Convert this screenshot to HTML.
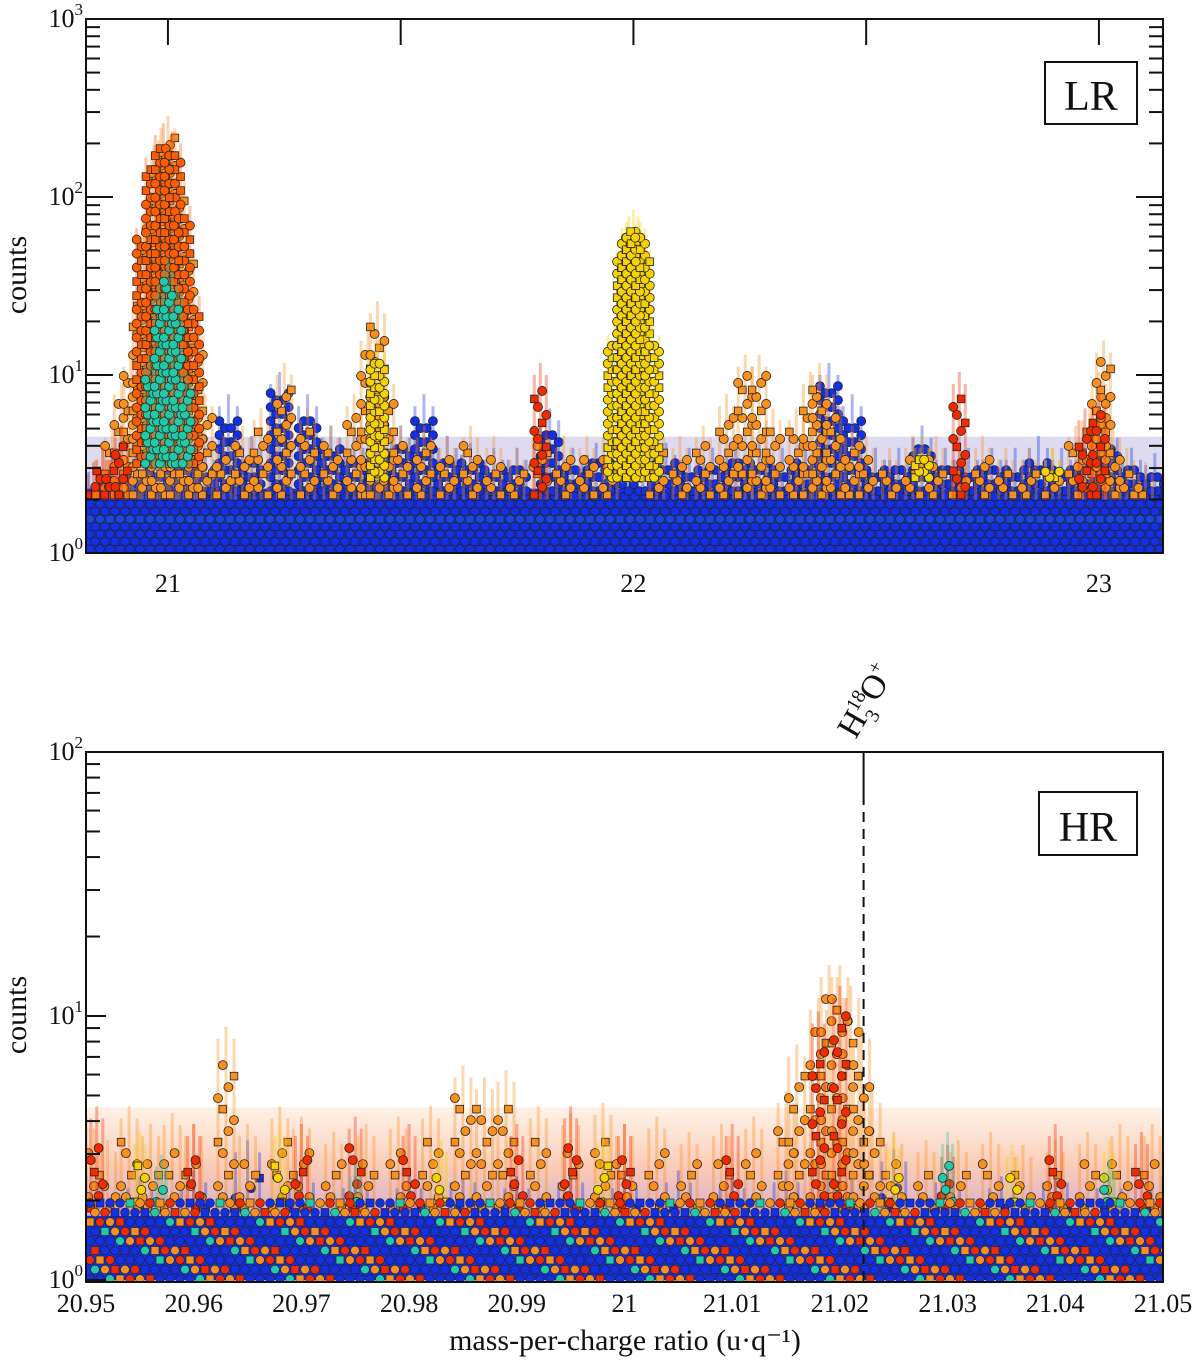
<!DOCTYPE html>
<html><head><meta charset="utf-8">
<style>
html,body{margin:0;padding:0;background:#fff;}
svg{display:block;font-family:"Liberation Serif",serif;}
</style></head>
<body>
<svg id="chart" width="1200" height="1365" viewBox="0 0 1200 1365" xmlns="http://www.w3.org/2000/svg">
<defs>
<clipPath id="clipT"><rect x="86" y="19" width="1077" height="534"/></clipPath>
<clipPath id="clipB"><rect x="86" y="752" width="1077" height="530"/></clipPath>
<linearGradient id="hazeGrad" x1="0" y1="0" x2="0" y2="1">
<stop offset="0" stop-color="#f7a060" stop-opacity="0.15"/>
<stop offset="0.5" stop-color="#f26a30" stop-opacity="0.35"/>
<stop offset="1" stop-color="#8a50c0" stop-opacity="0.5"/>
</linearGradient>
</defs>
<g id="topMarks" clip-path="url(#clipT)"></g>
<g id="botMarks" clip-path="url(#clipB)"></g>
<g id="axes"></g>
</svg>
<script>
// ---------- TOP (LR) panel data ----------
const lrOrangeX = [20.86,20.88,20.9,20.92,20.94,20.96,20.98,21.0,21.02,21.04,21.06,21.08,21.12,21.16,21.2,21.25,21.3,21.35,21.4,21.43,21.45,21.47,21.5,21.55,21.6,21.65,21.7,21.75,21.8,21.85,21.9,21.95,22.05,22.1,22.15,22.2,22.24,22.27,22.3,22.35,22.38,22.4,22.43,22.47,22.5,22.55,22.6,22.65,22.7,22.75,22.8,22.85,22.9,22.95,22.98,23.0,23.01,23.03,23.06,23.1];
const lrOrangeY = [3,4,7,10,25,70,160,220,110,45,15,6,3.5,4,5,9,5,4,6,14,20,8,4,4,3.5,4,3.5,3,4,3.5,3.5,4,4,3.5,4,6,10,10,5,5,8,9,6,4,3.5,3,3.5,3.5,3,3.5,3,3,3,4,5,8,12,4,3,2.5];
const lrYellowX = [21.45,21.96,21.98,21.99,22.0,22.01,22.02,22.04,22.62,22.9];
const lrYellowY = [12,15,45,60,65,60,45,15,3.5,3];
const lrTealX = [20.96,20.98,21.0,21.02,21.04];
const lrTealY = [10,25,35,25,8];
const lrRedX = [20.84,20.86,20.88,20.9,21.8,22.7,22.97,23.0];
const lrRedY = [2.5,3,3,4,9,8,5,6];
const lrBlueX = [20.83,20.88,20.93,20.98,21.03,21.08,21.13,21.18,21.24,21.3,21.35,21.4,21.45,21.5,21.55,21.6,21.65,21.7,21.75,21.82,21.87,21.92,21.97,22.02,22.07,22.12,22.17,22.22,22.27,22.32,22.37,22.42,22.47,22.52,22.57,22.62,22.67,22.72,22.77,22.82,22.87,22.92,22.97,23.02,23.07,23.12];
const lrBlueY = [2.2,2.6,2.8,3,3,3,6,3.5,8,6,4,3.5,3.5,4,6,3.5,3.2,3,3,5,3,3.2,3.2,3.5,3.2,3,3,3.2,3.2,3,3.5,9,6,3,3,4,3,3,3,3,3.5,3,3,4,3,2.8];
const lrXTicks = [21,22,23];
const lrYTicks = [0,1,2,3];

// ---------- BOTTOM (HR) panel data ----------
const hrOrangeX = [20.95,20.952,20.954,20.956,20.958,20.96,20.963,20.965,20.968,20.97,20.973,20.976,20.979,20.982,20.985,20.987,20.989,20.992,20.995,20.998,21.0,21.003,21.006,21.009,21.012,21.015,21.016,21.018,21.019,21.02,21.021,21.022,21.023,21.025,21.028,21.031,21.034,21.037,21.04,21.043,21.046,21.049];
const hrOrangeY = [3.2,2.6,3.5,3,3.3,3,7,3,3.5,3.2,2.8,3,3.2,3.5,5,4.5,4.8,3.5,3.3,3.6,3,3.2,2.8,3,3.2,4,6,9,12,12,10,7,4,2.8,2.6,2.6,2.8,2.5,2.6,2.8,3,3];
const hrRedX = [20.951,20.96,20.97,20.975,20.98,20.99,20.995,21.0,21.01,21.018,21.02,21.03,21.04,21.048];
const hrRedY = [3.5,3,3,3.2,3,3,3.5,3,3,8,10,2.5,3,2.8];
const hrYellowX = [20.955,20.968,20.983,20.998,21.025,21.036,21.045];
const hrYellowY = [2.8,3,2.6,2.8,2.7,2.5,2.6];
const hrTealX = [20.957,20.975,21.03,21.045];
const hrTealY = [2.3,2.1,2.8,2.2];
const hrBlueX = [20.95,20.955,20.96,20.965,20.97,20.975,20.98,20.985,20.99,20.995,21.0,21.005,21.01,21.015,21.02,21.025,21.03,21.035,21.04,21.045,21.05];
const hrBlueY = [1.9,1.9,2.0,2.6,2.0,1.9,1.9,2.0,1.9,2.0,1.9,2.0,1.9,2.0,2.1,2.4,2.0,1.9,2.0,1.9,1.9];
const hrXTicks = [20.95,20.96,20.97,20.98,20.99,21.0,21.01,21.02,21.03,21.04,21.05];
const hrXTickLabels = ["20.95","20.96","20.97","20.98","20.99","21","21.01","21.02","21.03","21.04","21.05"];
const hrYTicks = [0,1,2];
const lineMass = 21.0222;

const NS = "http://www.w3.org/2000/svg";
function el(tag, attrs, parent){const e=document.createElementNS(NS,tag);for(const k in attrs)e.setAttribute(k,attrs[k]);parent.appendChild(e);return e;}
const xT = v => 86 + (v - 20.824) * 465.5;
const yT = c => 553 - 178 * Math.log10(c);
const xB = v => 86 + (v - 20.95) * 10770;
const yB = c => 1280 - 264 * Math.log10(c);

const C = {orange:"#f7901e", dorange:"#ff5c00", yellow:"#f6d200", teal:"#22c9a6", red:"#f22a00", blue:"#1430e6"};

function drawColumns(g, xs, ys, xf, yf, color, r, spread, step, name, square, from, perRow){
  const sg = el("g",{},g);
  
  
  for(let i=0;i<xs.length;i++){
    const cx = xf(xs[i]); const top = yf(ys[i]*1.3); const base = yf(from);
    for(let b=-1;b<=1;b++){
      const bar = el("rect",{x:cx+b*spread-1.5, y:top+Math.abs(b)*12, width:3, height:Math.max(0,base-top-Math.abs(b)*12), fill:color, opacity:0.35},sg);
      
      
    }
    const yTop = yf(ys[i]);
    let k=0;
    const offs = [-spread, spread*0.3, spread, -spread*0.4];
    for(let py=base-r; py>=yTop; py-=step){
      for(let j=0;j<perRow;j++){
        const ox = offs[(j*2+k+i)%4];
        let m;
        if(square && (j+k)%3===0) m = el("rect",{x:cx+ox-r*0.85,y:py-r*0.85,width:1.7*r,height:1.7*r,fill:color,stroke:"#222","stroke-width":0.8},sg);
        else m = el("circle",{cx:cx+ox, cy:py, r:r, fill:color, stroke:"#222","stroke-width":0.8},sg);
        
        
      }
      k++;
    }
  }
}
function floorRows(g, name, rows, yStart, dy, dx, pal){
  const sg = el("g",{},g);
  
  
  for(let row=0; row<rows; row++){
    const py = yStart - row*dy;
    for(let px=90; px<1165; px+=dx){
      const col = pal[(row*5 + Math.floor(px/dx)*7) % pal.length];
      const sq = (row+Math.floor(px/dx))%3===0;
      const m = sq ? el("rect",{x:px+(row%2)*dx/2-4, y:py-4, width:8, height:8, fill:col, stroke:"#222","stroke-width":0.7},sg)
                   : el("circle",{cx:px+(row%2)*dx/2, cy:py, r:4.4, fill:col, stroke:"#222","stroke-width":0.7},sg);
      
      
    }
  }
}

const gT = document.getElementById("topMarks");
const hazeT = el("rect",{x:86,y:yT(4.5),width:1077,height:yT(2)-yT(4.5),fill:"#7a70c8",opacity:0.25},gT);
 
const bandT = el("rect",{x:86,y:yT(2.3),width:1077,height:yT(1)-yT(2.3),fill:C.blue},gT);


floorRows(gT, 'lr-floor-rows', 8, 549, 7.5, 10, [C.blue,C.blue,C.blue,C.blue,C.blue,C.blue,"#1a48d8"]);
drawColumns(gT, lrBlueX, lrBlueY, xT, yT, C.blue, 4.5, 9, 7, "lr-blue-series", false, 2.1, 2);
drawColumns(gT, lrOrangeX, lrOrangeY, xT, yT, C.orange, 4.5, 7, 7, "lr-orange-series", true, 2.0, 1);
drawColumns(gT, lrRedX, lrRedY, xT, yT, C.red, 4.5, 6, 8, "lr-red-series", true, 2.0, 1);
drawColumns(gT, lrYellowX, lrYellowY, xT, yT, C.yellow, 4.5, 7, 6, "lr-yellow-series", true, 2.5, 2);
drawColumns(gT, [20.95,20.97,20.99,21.01,21.03,21.05], [60,150,200,180,80,25], xT, yT, C.dorange, 4.5, 8, 7, "lr-dark-orange-series", true, 3.0, 2);
drawColumns(gT, lrTealX, lrTealY, xT, yT, C.teal, 4.5, 4, 7, "lr-teal-series", false, 3.0, 1);

const gB = document.getElementById("botMarks");
const hazeB = el("rect",{x:86,y:yB(4.5),width:1077,height:yB(1.6)-yB(4.5),fill:"url(#hazeGrad)"},gB);
 
const bandB = el("rect",{x:86,y:yB(1.75),width:1077,height:yB(1)-yB(1.75),fill:C.blue},gB);


drawColumns(gB, hrBlueX, hrBlueY, xB, yB, C.blue, 4.5, 12, 10, "hr-blue-series", true, 1.8, 1);
drawColumns(gB, hrOrangeX, hrOrangeY, xB, yB, C.orange, 4.5, 8, 11, "hr-orange-series", true, 1.8, 1);
drawColumns(gB, hrRedX, hrRedY, xB, yB, C.red, 4.5, 6, 12, "hr-red-series", true, 1.8, 1);
drawColumns(gB, hrYellowX, hrYellowY, xB, yB, C.yellow, 4.5, 5, 12, "hr-yellow-series", true, 1.9, 1);
drawColumns(gB, hrTealX, hrTealY, xB, yB, C.teal, 4.5, 5, 12, "hr-teal-series", false, 1.9, 1);
floorRows(gB, 'hr-count-rows', 9, 1279, 9.5, 10, [C.blue,C.red,C.blue,C.orange,C.blue,C.teal,C.red,C.blue,C.orange]);

// ---------- AXES ----------
const gA = document.getElementById("axes");
function line(x1,y1,x2,y2,name,extra){const l=el("line",Object.assign({x1,y1,x2,y2,stroke:"#111","stroke-width":2},extra||{}),gA);return l;}
function text(x,y,s,size,anchor,name){const t=el("text",{x,y,"font-size":size,"text-anchor":anchor||"middle",fill:"#111"},gA);t.textContent=s;return t;}
function pow10(x,y,e,name){const t=el("text",{x,y,"font-size":26,"text-anchor":"end",fill:"#111"},gA);const a=el("tspan",{},t);a.textContent="10";const b=el("tspan",{"font-size":17,dy:-12},t);b.textContent=String(e);}

const fT = el("rect",{x:86,y:19,width:1077,height:534,fill:"none",stroke:"#111","stroke-width":2},gA);
 
lrYTicks.forEach(e=>{
  const y=yT(Math.pow(10,e));
  line(86,y,113,y,'lr-y-major-tick'); line(1163,y,1136,y,'lr-y-major-tick-right');
  pow10(83,y+8,e,'lr-y-tick-label');
  if(e<3) for(let m=2;m<10;m++){const ym=yT(m*Math.pow(10,e));line(86,ym,100,ym,'lr-y-minor-tick');line(1163,ym,1149,ym,'lr-y-minor-tick-right');}
});
for(let v=21; v<=23.001; v+=0.5){const x=xT(v);line(x,19,x,45,'lr-x-tick-top');}
lrXTicks.forEach(v=>text(xT(v),592,String(v),26,"middle",'lr-x-tick-label'));
const ltT=text(0,0,"counts",30,"middle",'lr-y-axis-title'); ltT.setAttribute("transform","translate(26,275) rotate(-90)");
const lrBox = el("rect",{x:1045,y:62,width:92,height:62,fill:"#fff",stroke:"#111","stroke-width":2},gA);
 
text(1091,110,"LR",42,"middle",'lr-label');

const fB = el("rect",{x:86,y:752,width:1077,height:530,fill:"none",stroke:"#111","stroke-width":2},gA);
 
hrYTicks.forEach(e=>{
  const y=yB(Math.pow(10,e));
  line(86,y,106,y,'hr-y-major-tick');
  pow10(83,y+8,e,'hr-y-tick-label');
  if(e<2) for(let m=2;m<10;m++){const ym=yB(m*Math.pow(10,e));line(86,ym,100,ym,'hr-y-minor-tick');}
});
hrXTicks.forEach((v,i)=>text(xB(v),1312,hrXTickLabels[i],26,"middle",'hr-x-tick-label'));
const ltB=text(0,0,"counts",30,"middle",'hr-y-axis-title'); ltB.setAttribute("transform","translate(26,1015) rotate(-90)");
text(625,1350,"mass-per-charge ratio (u\u00B7q\u207B\u00B9)",30,"middle",'x-axis-title');
const hrBox = el("rect",{x:1039,y:792,width:98,height:63,fill:"#fff",stroke:"#111","stroke-width":2},gA);
 
text(1088,841,"HR",42,"middle",'hr-label');
const xl = xB(lineMass);
line(xl,752,xl,795,'h3o-marker-line-solid');
line(xl,795,xl,1282,'h3o-marker-line',{"stroke-dasharray":"10,7"});
const ann = el("text",{"font-size":34,fill:"#111","text-anchor":"start"},gA);
 
ann.setAttribute("transform",`translate(${xl-8},740) rotate(-60)`);
const t1=el("tspan",{},ann); t1.textContent="H";
const t2=el("tspan",{"font-size":20,dy:-13},ann); t2.textContent="18";
const t3=el("tspan",{"font-size":20,dx:-20,dy:22},ann); t3.textContent="3";
const t4=el("tspan",{dy:-9,dx:8},ann); t4.textContent="O";
const t5=el("tspan",{"font-size":20,dy:-13},ann); t5.textContent="+";
</script>
</body></html>
